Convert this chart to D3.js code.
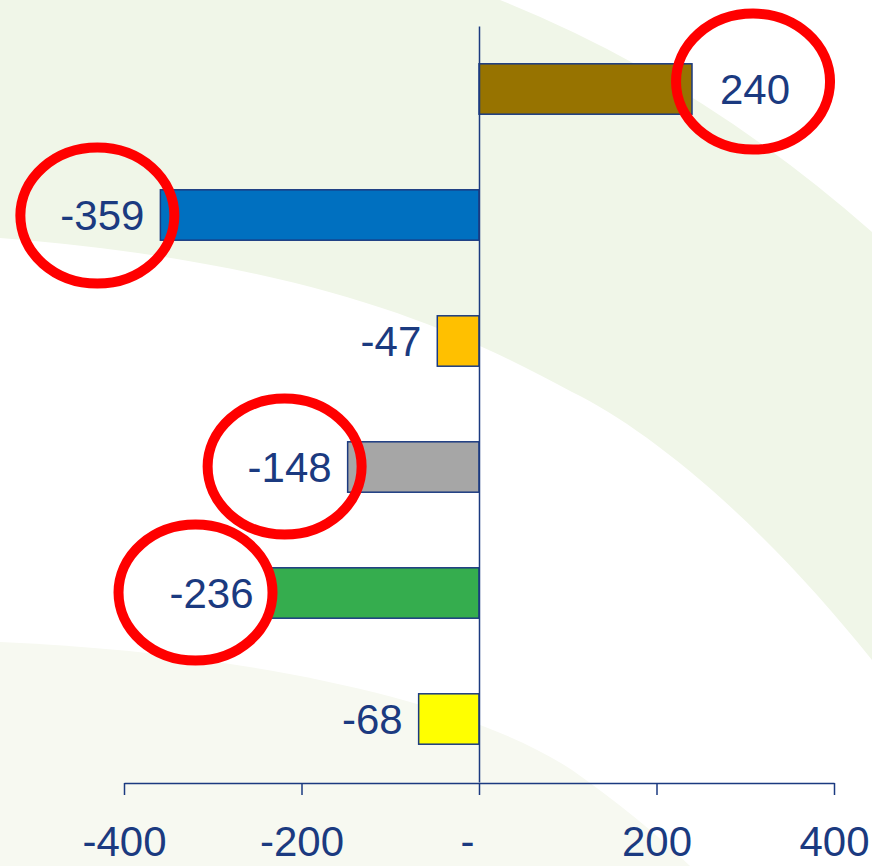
<!DOCTYPE html>
<html>
<head>
<meta charset="utf-8">
<script src="https://cdn.jsdelivr.net/npm/d3@7"></script>
<style>
  body { margin: 0; background: #ffffff; }
  svg text { font-family: "Liberation Sans", Arial, sans-serif; }
</style>
</head>
<body>
<div class="chart"></div>
<script>
// Data
var categories = ["A", "B", "C", "D", "E", "F"];
var values = [240, -359, -47, -148, -236, -68];
var barColors = ["#977300", "#0070c0", "#ffc000", "#a6a6a6", "#35ad4e", "#ffff00"];
var tickValues = [-400, -200, 0, 200, 400];
// which labels are circled in red, with a small hand-drawn nudge
var circled = ["A", "B", "D", "E"];
var circleNudgeX = [-2, -5, -5, -16];
var circleNudgeY = [-8, 0, -1, -1];

var svgWidth = 872;
var svgHeight = 866;
var navy = "#1b3a80";

var svg = d3.select(".chart")
  .append("svg")
  .attr("width", svgWidth)
  .attr("height", svgHeight);

// soft green background swooshes
var bg = svg.append("g");
bg.append("path")
  .attr("d", "M0,0 H500 Q700,80 872,232 V660 C760,520 650,430 572,392 C450,325 300,262 0,238 Z")
  .attr("fill", "#f0f6e8");
bg.append("path")
  .attr("d", "M0,642 C200,650 450,690 572,770 Q640,818 690,866 H0 Z")
  .attr("fill", "#f7f9f1");

var data = categories.map(function(c, i) {
  return { cat: c, value: values[i], color: barColors[i] };
});

var x = d3.scaleLinear()
  .domain([-400, 400])
  .range([124, 834]);

var y = d3.scaleBand()
  .domain(categories)
  .range([26, 782])
  .paddingInner(0.6)
  .paddingOuter(0.3);

// bars
svg.append("g").selectAll("rect")
  .data(data)
  .enter()
  .append("rect")
  .attr("x", d => x(Math.min(0, d.value)))
  .attr("y", d => y(d.cat))
  .attr("width", d => Math.abs(x(d.value) - x(0)))
  .attr("height", y.bandwidth())
  .attr("fill", d => d.color)
  .attr("stroke", navy)
  .attr("stroke-width", 1.5);

// value labels
var labels = svg.append("g").selectAll("text")
  .data(data)
  .enter()
  .append("text")
  .attr("x", d => d.value < 0 ? x(d.value) - 16 : x(d.value) + 28)
  .attr("y", d => y(d.cat) + y.bandwidth() / 2)
  .attr("dy", "0.36em")
  .attr("text-anchor", d => d.value < 0 ? "end" : "start")
  .attr("font-size", "42px")
  .attr("fill", navy)
  .text(d => d.value);

// vertical axis at zero
svg.append("g")
  .attr("transform", `translate(${x(0)},0)`)
  .call(d3.axisLeft(y).tickSize(0).tickFormat(""))
  .call(g => g.select(".domain").attr("stroke", navy).attr("stroke-width", 1.5));

// bottom axis
var bottomAxis = d3.axisBottom(x)
  .tickValues(tickValues)
  .tickSize(12)
  .tickSizeOuter(0)
  .tickFormat(d => d === 0 ? "-" : d);

svg.append("g")
  .attr("transform", "translate(0,783)")
  .call(bottomAxis)
  .call(g => g.select(".domain").attr("stroke", navy).attr("stroke-width", 1.5))
  .call(g => g.selectAll(".tick line").attr("stroke", navy).attr("stroke-width", 1.5))
  .call(g => g.selectAll(".tick text")
    .attr("y", 73)
    .attr("dy", 0)
    .attr("dx", d => d === 0 ? -12 : 0)
    .attr("font-size", "42px")
    .attr("font-family", "'Liberation Sans', Arial, sans-serif")
    .attr("fill", navy));

// red hand-drawn circles round the key labels
labels.each(function(d) {
  var k = circled.indexOf(d.cat);
  if (k < 0) return;
  var b = this.getBBox();
  svg.append("ellipse")
    .attr("cx", b.x + b.width / 2 + circleNudgeX[k])
    .attr("cy", b.y + b.height / 2 + circleNudgeY[k])
    .attr("rx", 77)
    .attr("ry", 68)
    .attr("fill", "none")
    .attr("stroke", "#ff0000")
    .attr("stroke-width", 10);
});
</script>
</body>
</html>
